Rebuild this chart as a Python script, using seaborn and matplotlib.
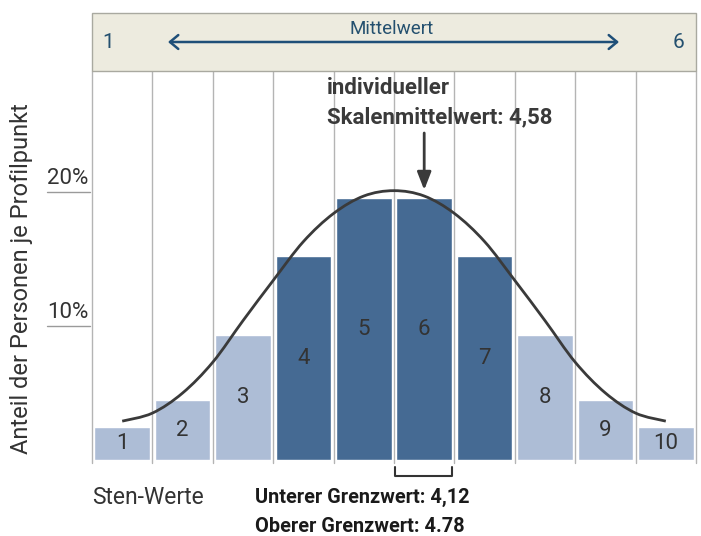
import numpy as np
import pandas as pd
import matplotlib
matplotlib.use("Agg")
import matplotlib.pyplot as plt
import matplotlib.transforms as mtransforms
import seaborn as sns
from matplotlib.path import Path
from matplotlib.patches import PathPatch, Rectangle, FancyArrowPatch

# ---------------- data ----------------
sten = [1, 2, 3, 4, 5, 6, 7, 8, 9, 10]
pct = [2.45, 4.45, 9.3, 15.2, 19.55, 19.55, 15.2, 9.3, 4.45, 2.45]
group = ["außen", "außen", "außen", "mitte", "mitte", "mitte", "mitte", "außen", "außen", "außen"]
curve_x = [1.0, 1.5, 2.0, 2.5, 3.0, 3.5, 4.0, 4.5, 5.0, 5.5, 6.0, 6.5, 7.0, 7.5, 8.0, 8.5, 9.0, 9.5, 10.0]
curve_y = [2.9, 3.5, 5.0, 7.3, 10.4, 13.4, 16.3, 18.4, 19.7, 20.1, 19.7, 18.4, 16.3, 13.4, 10.4, 7.3, 5.0, 3.5, 2.9]
yticks = [10, 20]
ytick_labels = ["10%", "20%"]
scale_left, scale_right = "1", "6"
marker_x = 6.0          # position of the "individueller Skalenmittelwert" arrow
bracket = [5.52, 6.46]  # span of the Grenzwert bracket

# ---------------- style ----------------
sns.set_theme(style="white")
plt.rcParams["font.family"] = ["Roboto", "DejaVu Sans"]

W, H = 701, 536
fig = plt.figure(figsize=(W / 100, H / 100), dpi=100)
fig.patch.set_facecolor("white")

def fx(x):
    return x / W

def fy(y):
    return 1 - y / H

PX_PER_PCT = 13.4
ax_left, ax_right, ax_top, ax_bottom = 92, 696, 71, 460
ax = fig.add_axes([fx(ax_left), fy(ax_bottom), (ax_right - ax_left) / W, (ax_bottom - ax_top) / H])
ymax = (ax_bottom - ax_top) / PX_PER_PCT

df = pd.DataFrame({"sten": sten, "pct": pct, "group": group})
sns.barplot(data=df, x="sten", y="pct", hue="group",
            palette={"außen": "#adbdd6", "mitte": "#456a93"},
            native_scale=True, width=0.92, dodge=False, legend=False,
            saturation=1, ax=ax, zorder=3)

ax.set_xlim(0.5, 10.5)
ax.set_ylim(0, ymax)
ax.set_xticks([])
ax.set_yticks([])
ax.set_xlabel("")
ax.set_ylabel("")
for s in ax.spines.values():
    s.set_visible(False)
ax.set_facecolor("white")

# vertical column separators
for xv in np.arange(0.5, 11, 1.0):
    ax.plot([xv, xv], [-0.25, ymax], color="#b4b4b4", lw=1, clip_on=False, zorder=1)

# bar numbers
for s_, v in zip(sten, pct):
    ax.text(s_, v / 2, str(s_), ha="center", va="center", fontsize=16, color="#333333", zorder=5)

# smooth bell curve through the read points (Catmull-Rom -> Bezier)
pts = np.column_stack([curve_x, curve_y])
verts = [tuple(pts[0])]
codes = [Path.MOVETO]
n = len(pts)
for i in range(n - 1):
    p0 = pts[i - 1] if i > 0 else pts[i]
    p1 = pts[i]
    p2 = pts[i + 1]
    p3 = pts[i + 2] if i + 2 < n else pts[i + 1]
    c1 = p1 + (p2 - p0) / 6
    c2 = p2 - (p3 - p1) / 6
    verts += [tuple(c1), tuple(c2), tuple(p2)]
    codes += [Path.CURVE4] * 3
ax.add_patch(PathPatch(Path(verts, codes), fill=False, ec="#3a3a3a", lw=2, zorder=6))

# y ticks (line under label)
trans = mtransforms.blended_transform_factory(ax.transAxes, ax.transData)
x0 = (47 - ax_left) / (ax_right - ax_left)
x1 = (90 - ax_left) / (ax_right - ax_left)
xc = (68 - ax_left) / (ax_right - ax_left)
for t, lab in zip(yticks, ytick_labels):
    ax.plot([x0, x1], [t, t], transform=trans, color="#9a9a9a", lw=1, clip_on=False)
    ax.text(xc, t + 0.25, lab, transform=trans, ha="center", va="bottom", fontsize=16, color="#333333")

# arrow to the individual value
ax.annotate("", xy=(marker_x, (ax_bottom - 190) / PX_PER_PCT),
            xytext=(marker_x, (ax_bottom - 133) / PX_PER_PCT),
            arrowprops=dict(arrowstyle="-|>,head_length=0.9,head_width=0.35",
                            color="#3a3a3a", lw=2, shrinkA=0, shrinkB=0), zorder=7)

# bracket below
by1 = -(467 - ax_bottom) / PX_PER_PCT
by2 = -(476 - ax_bottom) / PX_PER_PCT
ax.plot([bracket[0], bracket[0], bracket[1], bracket[1]], [by1, by2, by2, by1],
        color="#333333", lw=1.5, clip_on=False)

# top band
fig.add_artist(Rectangle((fx(92), fy(71)), (696 - 92) / W, (71 - 13) / H,
                         transform=fig.transFigure, fc="#edebdf", ec="#a9a9a0", lw=1))
band_col = "#24506f"
fig.text(fx(108), fy(43), scale_left, ha="center", va="center", fontsize=15, color=band_col)
fig.text(fx(678), fy(43), scale_right, ha="center", va="center", fontsize=15, color=band_col)
fig.text(fx(392), fy(29), "Mittelwert", ha="center", va="center", fontsize=13.5, color=band_col)
fig.add_artist(FancyArrowPatch((fx(168), fy(42)), (fx(619), fy(42)), transform=fig.transFigure,
                               arrowstyle="<->,head_length=6,head_width=5", color="#1f4f78",
                               lw=1.8, shrinkA=0, shrinkB=0))

# annotation text
fig.text(fx(327), fy(88), "individueller", ha="left", va="center", fontsize=16,
         fontweight="bold", color="#3a3a3a")
fig.text(fx(327), fy(117), "Skalenmittelwert: 4,58", ha="left", va="center", fontsize=16,
         fontweight="bold", color="#3a3a3a")

# bottom texts
fig.text(fx(92), fy(498), "Sten-Werte", ha="left", va="center", fontsize=16.5, color="#333333")
fig.text(fx(255), fy(497), "Unterer Grenzwert: 4,12", ha="left", va="center", fontsize=14.3,
         fontweight="bold", color="#1a1a1a")
fig.text(fx(255), fy(527), "Oberer Grenzwert: 4.78", ha="left", va="center", fontsize=14.3,
         fontweight="bold", color="#1a1a1a")

# y label
fig.text(fx(22), fy(279), "Anteil der Personen je Profilpunkt", rotation=90,
         ha="center", va="center", fontsize=17, color="#333333")

fig.savefig("out.png", dpi=100, facecolor="white")
